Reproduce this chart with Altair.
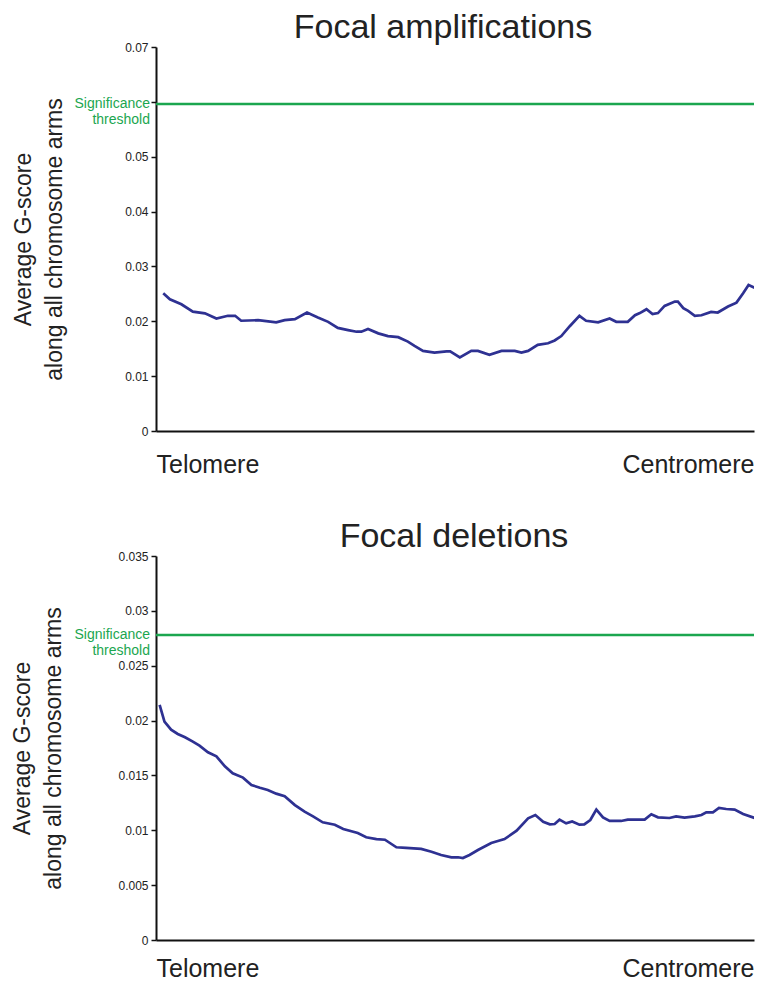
import altair as alt
import pandas as pd

# Top panel: focal amplifications
amp_pos = [1.2, 2.3, 4.2, 6.1, 8.1, 10.0, 11.9, 13.1, 14.1, 16.9, 19.9, 21.3, 23.0, 25.0, 26.8,
           28.5, 30.1, 31.8, 33.2, 34.0, 35.1, 36.8, 38.4, 40.1, 41.7, 42.8, 44.2, 46.1, 48.1,
           48.7, 50.3, 52.2, 53.3, 55.2, 57.2, 59.4, 60.5, 61.6, 63.2, 64.9, 66.0, 67.1, 68.5,
           70.1, 71.2, 73.2, 75.1, 76.2, 78.1, 79.3, 80.1, 81.2, 82.2, 83.1, 84.2, 85.9, 86.4,
           87.3, 88.1, 89.2, 90.3, 91.9, 93.0, 94.7, 96.1, 97.2, 98.1, 99.1, 100.0]
amp_val = [0.0251, 0.0240, 0.0231, 0.02175, 0.02145, 0.0205, 0.0210, 0.0210, 0.0201, 0.0202,
           0.0198, 0.0202, 0.0204, 0.0216, 0.0207, 0.0199, 0.0188, 0.0184, 0.0181, 0.0181,
           0.0186, 0.0178, 0.0173, 0.0171, 0.0163, 0.0155, 0.0146, 0.0143, 0.0145, 0.0145,
           0.0134, 0.0146, 0.0146, 0.0139, 0.0146, 0.0146, 0.0143, 0.0146, 0.0157, 0.0160,
           0.0165, 0.0173, 0.0191, 0.0210, 0.0201, 0.0198, 0.0205, 0.0199, 0.0199, 0.0211,
           0.0215, 0.0222, 0.0213, 0.0215, 0.0228, 0.0236, 0.0236, 0.0224, 0.0219, 0.0210,
           0.0211, 0.0217, 0.0216, 0.0227, 0.0234, 0.0251, 0.0266, 0.0261, 0.0254]
amp_threshold = 0.0596
amp_ticks = [0, 0.01, 0.02, 0.03, 0.04, 0.05, 0.06, 0.07]

# Bottom panel: focal deletions
del_pos = [0.6, 1.4, 2.5, 3.6, 4.8, 6.1, 7.2, 8.6, 10.0, 11.4, 12.7, 14.4, 15.8, 17.2, 18.5,
           19.9, 21.3, 23.0, 24.6, 26.0, 27.6, 29.6, 31.0, 33.4, 34.8, 36.5, 37.9, 39.8, 41.4,
           43.9, 45.6, 47.2, 48.9, 50.0, 50.8, 51.9, 53.3, 55.5, 56.6, 57.7, 59.7, 61.6, 62.8,
           64.1, 65.2, 66.0, 66.8, 67.9, 68.9, 70.1, 70.9, 71.9, 72.9, 74.0, 75.1, 77.0, 78.1,
           80.9, 82.0, 83.1, 85.0, 86.1, 87.5, 89.2, 90.3, 91.1, 92.2, 93.2, 94.4, 95.8, 97.2,
           99.1, 100.0]
del_val = [0.02142, 0.0199, 0.01917, 0.01878, 0.01848, 0.01808, 0.01771, 0.01711, 0.01674,
           0.01583, 0.0152, 0.0148, 0.01413, 0.01388, 0.01367, 0.01334, 0.0131, 0.0123, 0.0117,
           0.01127, 0.01073, 0.01051, 0.01012, 0.00975, 0.00936, 0.0092, 0.00914, 0.00845,
           0.00839, 0.0083, 0.00805, 0.00775, 0.00754, 0.00754, 0.00747, 0.00775, 0.0082,
           0.00884, 0.00902, 0.0092, 0.00996, 0.01109, 0.01139, 0.01078, 0.01054, 0.01057,
           0.01097, 0.01063, 0.01081, 0.01051, 0.01054, 0.01094, 0.01188, 0.01118, 0.01085,
           0.01085, 0.01097, 0.01097, 0.01146, 0.01118, 0.01112, 0.01127, 0.01115, 0.01127,
           0.01139, 0.01164, 0.01164, 0.01203, 0.01194, 0.01188, 0.01148, 0.01112, 0.01133]
del_threshold = 0.0278
del_ticks = [0, 0.005, 0.01, 0.015, 0.02, 0.025, 0.03, 0.035]

x_labels = ["Telomere", "Centromere"]
threshold_label = "Significance\nthreshold"
y_title = ["Average G-score", "along all chromosome arms"]

FONT = "Liberation Sans"
LINE_COLOR = "#2e3192"
GREEN = "#1ba64f"
TEXT = "#222222"
W, H = 598, 384
X_END = 99.0  # visible part of the telomere->centromere span


def panel(title, pos, vals, thr, ticks, ymax, hide_label, title_dx, title_pad, xlab_pad):
    df = pd.DataFrame({"pos": pos, "val": vals})
    x_enc = alt.X(
        "pos:Q",
        scale=alt.Scale(domain=[0, X_END], nice=False, zero=False),
        axis=alt.Axis(
            values=[0, X_END],
            labelExpr=f"datum.value == 0 ? '{x_labels[0]}' : '{x_labels[1]}'",
            labelFlush=True,
            labelFlushOffset=0,
            ticks=False,
            grid=False,
            domainColor="#111",
            domainWidth=2,
            labelFontSize=25,
            labelFont=FONT,
            labelColor=TEXT,
            labelBaseline="alphabetic",
            labelPadding=xlab_pad,
            title=None,
        ),
    )
    if hide_label is None:
        lexpr = "datum.label"
    else:
        lexpr = f"abs(datum.value - {hide_label}) < 1e-9 ? '' : datum.label"
    y_enc = alt.Y(
        "val:Q",
        scale=alt.Scale(domain=[0, ymax], nice=False),
        axis=alt.Axis(
            values=ticks,
            format="~g",
            labelExpr=lexpr,
            grid=False,
            domainColor="#111",
            domainWidth=2,
            tickColor="#111",
            tickWidth=1.5,
            tickSize=5,
            labelFontSize=12,
            labelFont=FONT,
            labelColor=TEXT,
            labelPadding=3,
            title=y_title,
            titleFontSize=23,
            titleFont=FONT,
            titleFontWeight="normal",
            titleColor=TEXT,
            titleLineHeight=31,
            titlePadding=title_pad,
        ),
    )
    line = alt.Chart(df).mark_line(color=LINE_COLOR, strokeWidth=2.7, clip=True).encode(x=x_enc, y=y_enc)
    tdf = pd.DataFrame({"thr": [thr], "label": [threshold_label]})
    rule = alt.Chart(tdf).mark_rule(color=GREEN, strokeWidth=2.5).encode(y="thr:Q")
    txt = alt.Chart(tdf).mark_text(
        align="right", baseline="middle", dx=-6, fontSize=14, font=FONT,
        color=GREEN, lineBreak="\n", lineHeight=16,
    ).encode(y="thr:Q", x=alt.value(0), text="label:N")
    return alt.layer(line, rule, txt).properties(
        width=W, height=H,
        title=alt.TitleParams(
            title, fontSize=34, font=FONT, fontWeight="normal", color=TEXT,
            anchor="middle", dx=title_dx, offset=-4, frame="group",
        ),
    )


top = panel("Focal amplifications", amp_pos, amp_val, amp_threshold, amp_ticks, 0.07, 0.06, -12, 58, 41)
bottom = panel("Focal deletions", del_pos, del_val, del_threshold, del_ticks, 0.035, None, -1, 52, 36)

chart = (
    alt.vconcat(top, bottom, spacing=43)
    .properties(padding={"top": 3, "left": 3, "right": 0, "bottom": 0})
    .configure(font=FONT)
    .configure_view(stroke=None)
)

chart.save("out.html", embed_options={"renderer": "svg", "actions": False})
